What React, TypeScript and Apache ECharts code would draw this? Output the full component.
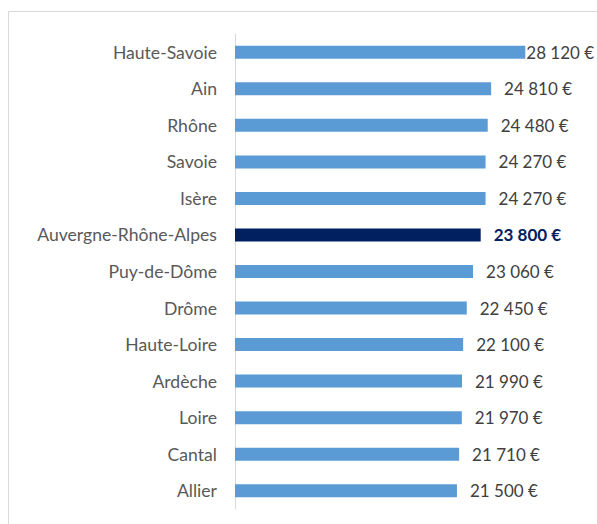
import React, { useEffect, useRef } from "react";
import * as echarts from "echarts";

const categories = [
  "Haute-Savoie",
  "Ain",
  "Rhône",
  "Savoie",
  "Isère",
  "Auvergne-Rhône-Alpes",
  "Puy-de-Dôme",
  "Drôme",
  "Haute-Loire",
  "Ardèche",
  "Loire",
  "Cantal",
  "Allier",
];
const values = [28120, 24810, 24480, 24270, 24270, 23800, 23060, 22450, 22100, 21990, 21970, 21710, 21500];
const highlight = "Auvergne-Rhône-Alpes";

const fmt = (v: number) => {
  const s = String(v);
  return s.replace(/\B(?=(\d{3})+(?!\d))/g, " ") + " €";
};

export default function App() {
  const ref = useRef<HTMLDivElement>(null);
  useEffect(() => {
    if (!ref.current) return;
    const chart = echarts.init(ref.current, null, { renderer: "svg" });
    const data = values.map((v, i) => {
      const isHi = categories[i] === highlight;
      return {
        value: v,
        itemStyle: { color: isHi ? "#002060" : "#5B9BD5" },
        label: {
          distance: i === 0 ? 1 : 13,
          color: isHi ? "#002060" : "#404040",
          fontWeight: isHi ? "bold" : "normal",
        },
      };
    });
    chart.setOption({
      animation: false,
      backgroundColor: "#ffffff",
      graphic: [
        {
          type: "rect",
          shape: { x: 8.5, y: 11.5, width: 700, height: 700 },
          style: { fill: "none", stroke: "#d9d9d9", lineWidth: 1 },
          silent: true,
          z: -1,
        },
      ],
      grid: { left: 235, right: 52.3, top: 34, bottom: 15, containLabel: false },
      xAxis: {
        type: "value",
        min: 0,
        max: 30000,
        show: false,
      },
      yAxis: {
        type: "category",
        data: categories,
        inverse: true,
        axisTick: { show: false },
        axisLine: { show: true, lineStyle: { color: "#d9d9d9", width: 1 } },
        axisLabel: {
          margin: 18,
          color: "#595959",
          fontFamily: "Lato",
          fontSize: 17.6,
        },
        splitLine: { show: false },
      },
      series: [
        {
          type: "bar",
          data,
          barWidth: 13,
          label: {
            show: true,
            position: "right",
            fontFamily: "Lato",
            fontSize: 17,
            formatter: (p: any) => fmt(p.value),
          },
        },
      ],
    });
    return () => chart.dispose();
  }, []);
  return (
    <div
      ref={ref}
      style={{ position: "absolute", left: 0, top: 0, width: 597, height: 524 }}
    />
  );
}
